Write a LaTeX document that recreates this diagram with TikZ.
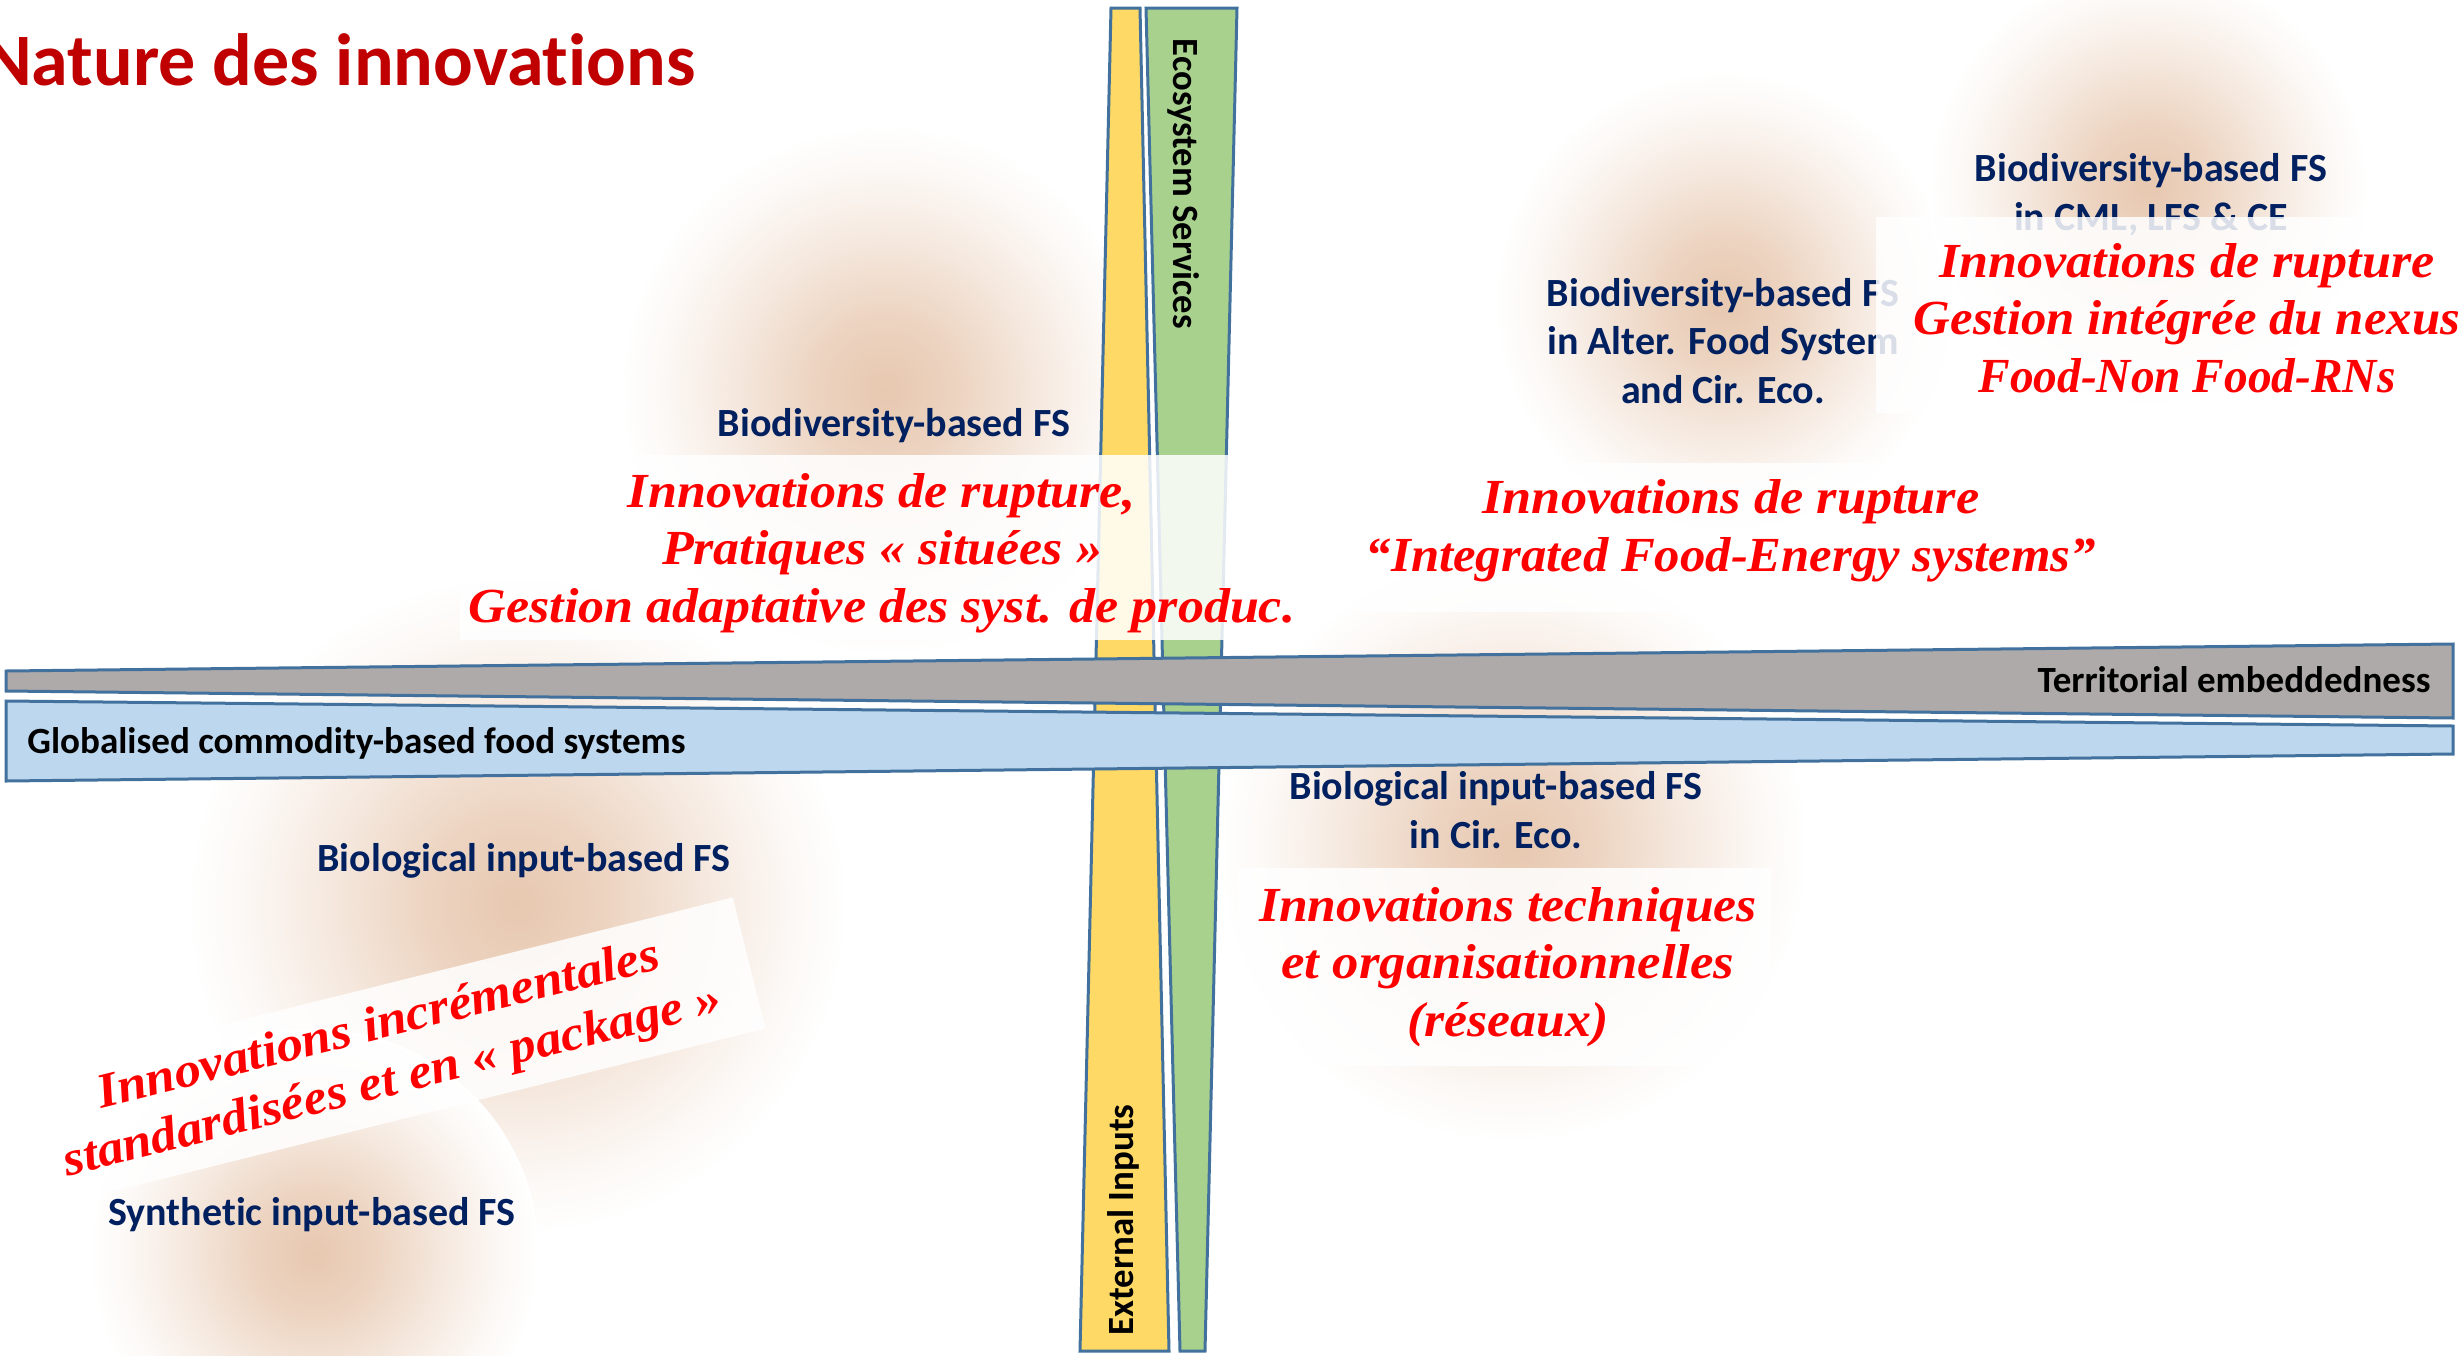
\documentclass[tikz,border=0pt]{standalone}
\usepackage{fontspec}
\usepackage{graphicx}
\setmainfont{Carlito}[Ligatures=NoCommon, RawFeature=-liga]
\newfontfamily\redfont{Liberation Serif}[Ligatures=NoCommon]
\definecolor{titlered}{HTML}{C00000}
\definecolor{navy}{HTML}{002060}
\definecolor{redtxt}{HTML}{FF0000}
\definecolor{barline}{HTML}{41719C}
\definecolor{yel}{HTML}{FFD966}
\definecolor{grn}{HTML}{A9D18E}
\definecolor{gry}{HTML}{AEAAAA}
\definecolor{blu}{HTML}{BDD7EE}
\definecolor{blobc}{RGB}{214,160,118}
\pgfdeclareradialshading{blobshade}{\pgfpoint{0bp}{0bp}}{color(0bp)=(blobc!58!white); color(7bp)=(blobc!45!white); color(15bp)=(blobc!22!white); color(21bp)=(blobc!7!white); color(25bp)=(white); color(50bp)=(white)}
\newcommand\fitw[2]{\resizebox{#1}{\height}{#2}}
\tikzset{
  bar/.style={draw=barline, line width=1.5pt, line join=miter},
  navylbl/.style={text=navy, font=\bfseries\fontsize{20}{24.4}\selectfont, align=center, inner sep=0pt},
  redlbl/.style={text=redtxt, font=\redfont\bfseries\itshape\fontsize{24.5}{28.75}\selectfont, align=center, inner sep=0pt},
  blacklbl/.style={text=black, font=\bfseries\fontsize{18.5}{22}\selectfont, inner sep=0pt},
  veil/.style={fill=white, opacity=0.85, draw=none},
  blob/.style={shading=blobshade, draw=none}
}
\begin{document}
\begin{tikzpicture}[x=0.5pt, y=-0.5pt]
\useasboundingbox (0,0) rectangle (2458,1355);
\clip (0,0) rectangle (2458,1355);
% blurred backgrounds
\shade[blob] (885,390) circle (265);
\shade[blob] (1724,301) circle (230);
\shade[blob] (2148,185) circle (220);
\shade[blob] (517,905) circle (330);
\shade[blob] (314,1254) circle (225);
\shade[blob] (1513,847) circle (295);
% vertical bars
\draw[bar, fill=yel] (1111,8) -- (1140,8) -- (1169,1351) -- (1080,1351) -- cycle;
\draw[bar, fill=grn] (1146,8) -- (1237,8) -- (1205,1351) -- (1180,1351) -- cycle;
\node[blacklbl, rotate=-90] (eco) at (1184,184) {\fitw{145pt}{Ecosystem Services}};
\node[blacklbl, rotate=90] (ext) at (1123,1220) {\fitw{115.5pt}{External Inputs}};
% horizontal bands
\draw[bar, fill=gry] (6,671) -- (2453,644) -- (2453,718) -- (6,691) -- cycle;
\draw[bar, fill=blu] (6,701) -- (2453,726) -- (2453,754) -- (6,781) -- cycle;
\node[blacklbl, anchor=west] (glob) at (27,743) {\fitw{329pt}{Globalised commodity-based food systems}};
\node[blacklbl, anchor=east] (terr) at (2431,680) {\fitw{196.5pt}{Territorial embeddedness}};
% title
\node[anchor=base east, text=titlered, font=\bfseries\fontsize{37}{44}\selectfont, inner sep=0pt] (title) at (696,85) {Nature des innovations};
% navy labels
\node[navylbl] (bio1) at (894,426) {Biodiversity-based FS};
\node[navylbl] (bio2) at (1723,341) {Biodiversity-based FS\\in Alter. Food System\\and Cir. Eco.};
\node[navylbl] (bio3) at (2151,195) {Biodiversity-based FS\\in CML, LFS \& CE};
\node[navylbl] (biol1) at (524,861) {Biological input-based FS};
\node[navylbl] (biol2) at (1496,810) {Biological input-based FS\\in Cir. Eco.};
\node[navylbl] (synt) at (312,1215) {Synthetic input-based FS};
% veils
\fill[veil] (460,455) rectangle (1310,640);
\fill[veil] (1330,463) rectangle (2140,612);
\fill[veil] (1876,217) rectangle (2458,413);
\fill[veil] (1238,868) rectangle (1771,1066);
\fill[veil, rotate around={14:(390,1052)}] (20,985) rectangle (760,1120);
% red texts
\node[redlbl] (redA) at (882,553) {\fitw{254pt}{Innovations de rupture,}\\\fitw{220pt}{Pratiques « situées »}\\\fitw{413pt}{Gestion adaptative des syst. de produc.}};
\node[redlbl] (redB) at (1731,531) {\fitw{248.5pt}{Innovations de rupture}\\\fitw{365pt}{“Integrated Food-Energy systems”}};
\node[redlbl] (redC) at (2187,318) {\fitw{247.5pt}{Innovations de rupture}\\\fitw{273pt}{Gestion intégrée du nexus}\\\fitw{208.5pt}{Food-Non Food-RNs}};
\node[redlbl] (redD) at (1508,967) {\fitw{249pt}{Innovations techniques}\\\fitw{226.5pt}{et organisationnelles}\\\fitw{100.5pt}{(réseaux)}};
\node[redlbl, rotate=14] (redE) at (386,1055) {\fitw{289pt}{Innovations incrémentales}\\\fitw{338.5pt}{standardisées et en « package »}};
\end{tikzpicture}
\end{document}
